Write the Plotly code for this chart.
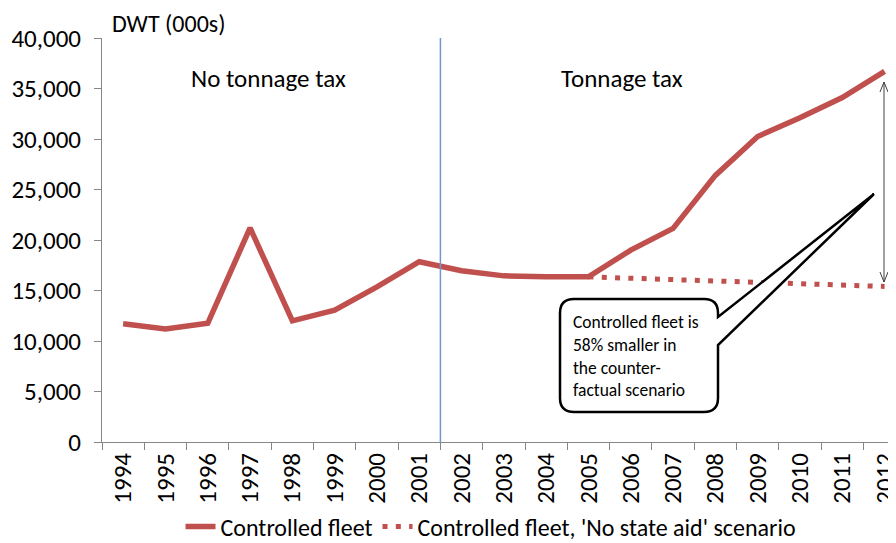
import plotly.graph_objects as go

years = [str(y) for y in range(1994, 2013)]
controlled = [11700, 11200, 11750, 21200, 12000, 13050, 15350, 17850, 16950,
              16450, 16350, 16350, 19000, 21150, 26400, 30250, 32100, 34100, 36700]
no_state_aid = [None, None, None, None, None, None, None, None, None,
                None, None, 16350, 16200, 16100, 15950, 15800, 15650, 15500, 15400]
y_ticks = [0, 5000, 10000, 15000, 20000, 25000, 30000, 35000, 40000]

RED = "#C0504D"
FONT = "Carlito, Calibri, Lato, sans-serif"
FS = 25

# the page has an 8px body margin: figure pixel = screen pixel - 8
OFF = 8
FIG_W, FIG_H = 896 - OFF, 543 - OFF
# plot area in screen pixels
L, R, T, B = 102, 896, 38, 442
def px(x):
    return (x - L) / (R - L)
def py(y):
    return (B - y) / (B - T)

fig = go.Figure()
fig.add_trace(go.Scatter(x=years, y=controlled, mode="lines", name="Controlled fleet",
                         line=dict(color=RED, width=5.5)))
fig.add_trace(go.Scatter(x=years, y=no_state_aid, mode="lines",
                         name="Controlled fleet, 'No state aid' scenario",
                         line=dict(color=RED, width=5, dash="5px,8.3px")))

shapes = []
# vertical divider between 2001 and 2002
shapes.append(dict(type="line", xref="x", yref="y", x0=7.5, x1=7.5, y0=0, y1=40000,
                   line=dict(color="#6F97CB", width=1.5), layer="above"))

# double arrow
ax_ = 884
top, bot = 82, 282
shapes.append(dict(type="line", xref="paper", yref="paper", x0=px(ax_), x1=px(ax_),
                   y0=py(top), y1=py(bot), line=dict(color="#404040", width=1)))
shapes.append(dict(type="path", xref="paper", yref="paper",
                   path=f"M {px(ax_-4)} {py(top+10)} L {px(ax_)} {py(top)} L {px(ax_+4)} {py(top+10)}",
                   line=dict(color="#404040", width=1)))
shapes.append(dict(type="path", xref="paper", yref="paper",
                   path=f"M {px(ax_-4)} {py(bot-10)} L {px(ax_)} {py(bot)} L {px(ax_+4)} {py(bot-10)}",
                   line=dict(color="#404040", width=1)))

# callout
x0, x1, y0, y1, r = 560, 718, 299, 412, 14
tip = (874, 194)
pts = [
    ("M", (x0 + r, y0)), ("L", (x1 - r, y0)), ("Q", (x1, y0), (x1, y0 + r)),
    ("L", (x1, 317)), ("L", tip), ("L", (x1, 345)),
    ("L", (x1, y1 - r)), ("Q", (x1, y1), (x1 - r, y1)),
    ("L", (x0 + r, y1)), ("Q", (x0, y1), (x0, y1 - r)),
    ("L", (x0, y0 + r)), ("Q", (x0, y0), (x0 + r, y0)),
]
path = ""
for item in pts:
    cmd = item[0]
    coords = " ".join(f"{px(p[0]):.5f},{py(p[1]):.5f}" for p in item[1:])
    path += f"{cmd} {coords} "
path += "Z"
shapes.append(dict(type="path", xref="paper", yref="paper", path=path,
                   fillcolor="white", line=dict(color="black", width=2.5), layer="above"))

annotations = [
    dict(text="DWT (000s)", xref="paper", yref="paper", x=px(110), y=py(24),
         xanchor="left", yanchor="middle", showarrow=False, font=dict(size=24, color="black")),
    dict(text="No tonnage tax", xref="paper", yref="paper", x=px(268), y=py(78),
         xanchor="center", yanchor="middle", showarrow=False, font=dict(size=FS, color="black")),
    dict(text="Tonnage tax", xref="paper", yref="paper", x=px(622), y=py(78),
         xanchor="center", yanchor="middle", showarrow=False, font=dict(size=FS, color="black")),
    dict(text="Controlled fleet is<br>58% smaller in<br>the counter-<br>factual scenario",
         xref="paper", yref="paper", x=px(571), y=py(309), xanchor="left", yanchor="top",
         align="left", showarrow=False, font=dict(size=17.5, color="black")),
]

fig.update_layout(
    width=FIG_W, height=FIG_H,
    margin=dict(l=L - OFF, r=0, t=T - OFF, b=FIG_H - (B - OFF), pad=0, autoexpand=False),
    paper_bgcolor="white", plot_bgcolor="white",
    font=dict(family=FONT, size=FS, color="black"),
    showlegend=True,
    legend=dict(orientation="h", x=px(491), y=py(527), xanchor="center", yanchor="middle",
                font=dict(size=24), itemwidth=30, tracegroupgap=0,
                bgcolor="rgba(0,0,0,0)"),
    shapes=shapes, annotations=annotations,
    xaxis=dict(type="category", range=[-0.5, 18.27], tickson="boundaries", ticks="outside",
               ticklen=7, tickcolor="#868686", tickangle=-90, showline=True,
               linecolor="#868686", linewidth=1, showgrid=False, zeroline=False,
               tickfont=dict(size=FS), automargin=False),
    yaxis=dict(range=[0, 40000], tickvals=y_ticks, tickformat=",", ticks="outside",
               ticklen=7, tickcolor="#868686", showline=True, linecolor="#868686",
               linewidth=1, showgrid=False, zeroline=False, tickfont=dict(size=FS),
               automargin=False, ticklabelstandoff=8),
)

fig.write_html("out.html")
